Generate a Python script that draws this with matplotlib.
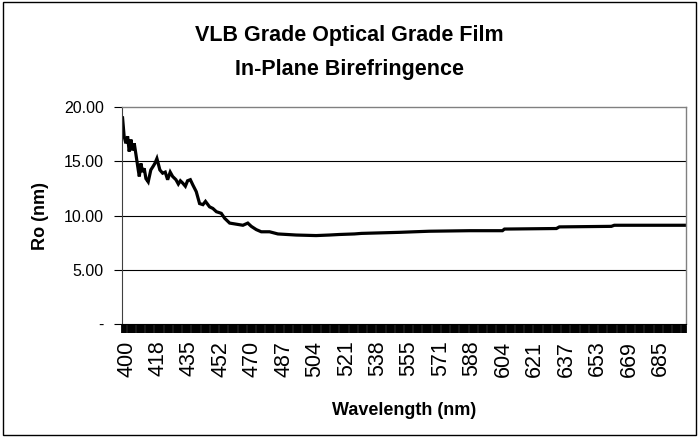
import numpy as np
import matplotlib
matplotlib.use("Agg")
import matplotlib.pyplot as plt
from matplotlib.patches import Rectangle
from matplotlib.transforms import ScaledTranslation

# wavelength (nm) vs in-plane retardation Ro (nm)
wavelength = [400.0, 400.9, 401.9, 402.9, 403.8, 404.8, 405.7, 406.7, 407.6, 409.0,
              409.6, 410.5, 411.5, 412.4, 413.4, 414.7, 416.2, 417.4, 418.5, 419.6,
              420.3, 421.2, 422.7, 424.1, 425.4, 426.8, 428.1, 429.9, 431.2, 432.3,
              433.5, 435.0, 436.2, 437.7, 439.1, 440.9, 442.7, 444.5, 445.9, 448.1,
              449.9, 451.8, 454.6, 456.5, 459.4, 463.2, 467.0, 469.8, 471.7, 474.4,
              477.1, 481.6, 486.1, 496.0, 506.8, 514.0, 519.4, 527.5, 531.3, 552.3,
              559.7, 567.3, 588.8, 605.7, 606.8, 634.1, 635.6, 662.1, 663.6, 700.0]
ro = [19.0, 17.3, 16.65, 17.3, 15.9, 17.0, 16.0, 16.65, 15.7, 14.2,
      13.6, 14.8, 14.0, 14.35, 13.4, 13.1, 14.2, 14.5, 14.8, 15.25,
      14.8, 14.2, 13.9, 14.0, 13.3, 14.0, 13.6, 13.3, 12.9, 13.2,
      13.0, 12.7, 13.2, 13.3, 12.8, 12.2, 11.1, 11.0, 11.3, 10.8,
      10.65, 10.35, 10.2, 9.75, 9.3, 9.2, 9.1, 9.3, 9.0, 8.7,
      8.5, 8.5, 8.3, 8.2, 8.15, 8.2, 8.25, 8.3, 8.35, 8.45,
      8.5, 8.55, 8.6, 8.6, 8.75, 8.8, 8.95, 9.0, 9.1, 9.1]

# category axis labels (every 28th category)
x_labels = [400, 418, 435, 452, 470, 487, 504, 521, 538, 555, 571, 588,
            604, 621, 637, 653, 669, 685]
y_ticks = [0, 5, 10, 15, 20]
y_labels = ['-', '5.00', '10.00', '15.00', '20.00']

n_cat = 503
step = 28
label_cat = [i * step for i in range(len(x_labels))]

# wavelength -> category position (excel-like category axis)
cat_pos = np.interp(wavelength, x_labels + [700], label_cat + [n_cat - 1]) + 0.5

fig = plt.figure(figsize=(6.99, 4.37), dpi=100)
fig.patches.append(Rectangle((0.004, 0.004), 0.992, 0.992, transform=fig.transFigure,
                             fill=False, edgecolor='black', linewidth=1.0))

ax = fig.add_axes([122 / 699, 1 - 324 / 437, 564 / 699, 217 / 437])
ax.plot(cat_pos, ro, color='black', linewidth=2.3, solid_joinstyle='miter')

ax.set_xlim(0, n_cat)
ax.set_ylim(0, 20)

for v in y_ticks[1:-1]:
    ax.axhline(v, color='black', linewidth=0.8, zorder=0)

ax.set_yticks(y_ticks)
ax.set_yticklabels(y_labels, family='Liberation Sans', fontsize=11.5)
ax.tick_params(axis='y', direction='out', length=6, width=0.8, pad=7)

ax.set_xticks([c + 0.5 for c in label_cat])
ax.set_xticklabels([str(v) for v in x_labels], rotation=90,
                   family='Liberation Sans', fontsize=15.5)
ax.tick_params(axis='x', which='major', length=0, pad=12)
shift = ScaledTranslation(4 / 100, 0, fig.dpi_scale_trans)
for lab in ax.get_xticklabels():
    lab.set_transform(lab.get_transform() + shift)
ax.set_xticks(np.arange(0, n_cat + 1), minor=True)
ax.tick_params(axis='x', which='minor', direction='out', length=6.5, width=1.3,
               color='black')

for s in ['top', 'right']:
    ax.spines[s].set_color('#808080')
    ax.spines[s].set_linewidth(1.0)
ax.spines['left'].set_color('#404040')
ax.spines['bottom'].set_color('black')

ax.set_xlabel('Wavelength (nm)', family='Liberation Sans',
              fontweight='bold', fontsize=13, labelpad=18)
ax.set_ylabel('Ro (nm)', family='Liberation Sans', fontweight='bold',
              fontsize=13, labelpad=11)

fig.text(0.5, 1 - 35 / 437, 'VLB Grade Optical Grade Film', ha='center', va='center',
         family='Liberation Sans', fontweight='bold', fontsize=15.5)
fig.text(0.5, 1 - 70 / 437, 'In-Plane Birefringence', ha='center', va='center',
         family='Liberation Sans', fontweight='bold', fontsize=15.5)

fig.savefig('out.png', dpi=100)
